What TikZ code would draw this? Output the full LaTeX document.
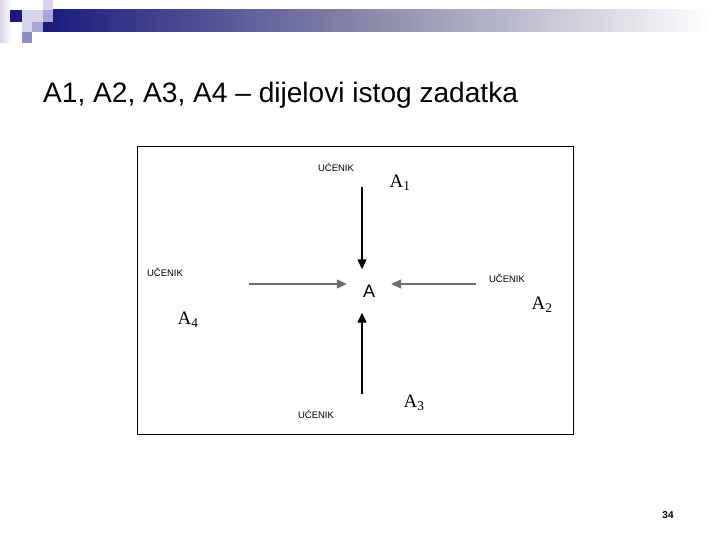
\documentclass[tikz,border=0pt]{standalone}
\usepackage{fontspec}
\setmainfont{Liberation Serif}
\setsansfont{Liberation Sans}
\usetikzlibrary{arrows.meta}
\definecolor{navy}{HTML}{1A1A7E}
\definecolor{barmid}{HTML}{8C8CAC}
\definecolor{lav1}{HTML}{D4D4EA}
\definecolor{lav2}{HTML}{A8A8D2}
\definecolor{lav3}{HTML}{8E8EC2}
\definecolor{arrgray}{HTML}{6E6E6E}
\tikzset{
  lbl/.style={font=\sffamily\fontsize{9.5}{11}\selectfont, inner sep=0pt},
  part/.style={font=\fontsize{19}{22}\selectfont, inner sep=0pt},
  arr/.style={line width=1.3pt, -{Triangle[length=10pt,width=9pt]}},
}
\begin{document}
\begin{tikzpicture}[x=1pt,y=-1pt]
\useasboundingbox (0,0) rectangle (720,540);
\fill[white] (0,0) rectangle (720,540);
% header decoration
\shade[left color=lav1, right color=white, draw=none] (0,0) rectangle (12,43);
\shade[left color=navy, right color=white, middle color=barmid, draw=none] (43,10) rectangle (712,32);
\fill[navy] (10,10) rectangle (22,22);
\fill[lav1] (22,10) rectangle (32,22);
\fill[lav1] (32,10) rectangle (43,22);
\fill[lav2] (43,10) rectangle (53,22);
\fill[lav1] (43,0) rectangle (53,10);
\fill[lav1] (22,22) rectangle (32,32);
\fill[lav2] (32,22) rectangle (43,32);
\fill[lav3] (22,32) rectangle (32,43);
% title
\node[anchor=base west, inner sep=0pt, font=\sffamily\fontsize{28.1}{33}\selectfont] (title) at (43,103) {A1, A2, A3, A4 – dijelovi istog zadatka};
% frame
\node[draw=black, line width=1.5pt, minimum width=436pt, minimum height=288pt, inner sep=0pt] (frame) at (355.5,290.5) {};
% centre
\node[minimum width=44pt, minimum height=43pt, inner sep=0pt, font=\sffamily\fontsize{18}{21}\selectfont] (A) at (369,291) {A};
\coordinate (s1) at (362,187);
\coordinate (s2) at (476,284);
\coordinate (s3) at (362,394);
\coordinate (s4) at (249,284);
\draw[arr, black] (s1) -- (s1 |- A.north);
\draw[arr, black] (s3) -- (s3 |- A.south);
\draw[arr, arrgray] (s4) -- (s4 -| A.west);
\draw[arr, arrgray] (s2) -- (s2 -| A.east);
% labels
\node[lbl] (u1) at (336,167) {UĆENIK};
\node[lbl] (u4) at (165,272) {UČENIK};
\node[lbl] (u2) at (507,278) {UČENIK};
\node[lbl] (u3) at (316,414) {UĆENIK};
\node[part] (a1) at (400,183) {A\textsubscript{1}};
\node[part] (a2) at (542,305) {A\textsubscript{2}};
\node[part] (a3) at (414,403) {A\textsubscript{3}};
\node[part] (a4) at (188,320) {A\textsubscript{4}};
% page number
\node[inner sep=0pt, font=\sffamily\bfseries\fontsize{10}{12}\selectfont] (pg) at (668,515) {34};
\end{tikzpicture}
\end{document}
